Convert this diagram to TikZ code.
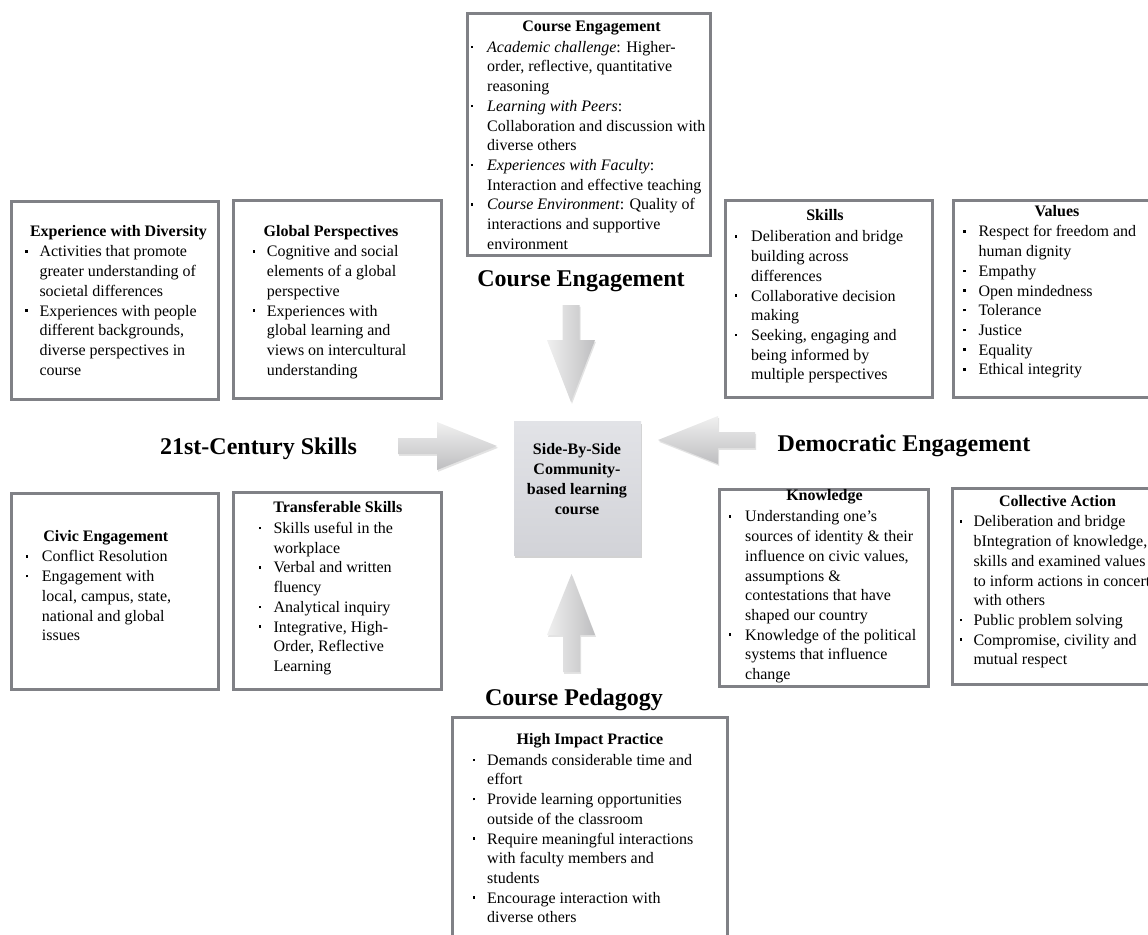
\documentclass[tikz,border=0pt]{standalone}
\usepackage{fontspec}
\setmainfont{Liberation Serif}
\usetikzlibrary{fit,shadows}

\definecolor{panelgray}{RGB}{128,129,134}
\definecolor{hubtop}{RGB}{226,227,231}
\definecolor{hubbot}{RGB}{210,211,216}
\definecolor{arrlight}{RGB}{240,240,240}
\definecolor{arrdark}{RGB}{190,190,192}

\newcommand\bodysize{\fontsize{16}{19.7}\selectfont}
\newcommand\headsize{\fontsize{24}{28}\selectfont\bfseries}
% square bullet hanging to the left of the item text
\newcommand\bu{\llap{\rule[4.3pt]{2.4pt}{2.4pt}\hspace{\bgap}}\rule{0pt}{14pt}}

\begin{document}
\begin{tikzpicture}[x=1pt,y=-1pt,
  panel/.style={draw=panelgray,line width=3pt,fill=white,inner sep=0pt},
  paneltitle/.style={anchor=base,inner sep=0pt,font=\bodysize\bfseries},
  itemlist/.style={anchor=north west,align=left,inner sep=0pt,font=\bodysize,
                   execute at begin node={\def\bgap{#1}}},
  heading/.style={anchor=base,inner sep=0pt,font=\headsize},
  hub/.style={draw=none,inner sep=0pt,top color=hubtop,bottom color=hubbot,
              drop shadow={opacity=0.35,shadow xshift=1.2pt,shadow yshift=-2.5pt}},
  vblock/.style={left color=arrlight,right color=arrdark,draw=none,
                 drop shadow={opacity=0.22,shadow xshift=1pt,shadow yshift=-1.8pt}},
  hblock/.style={top color=arrlight,bottom color=arrdark,draw=none,
                 drop shadow={opacity=0.22,shadow xshift=1pt,shadow yshift=-1.8pt}}]

\useasboundingbox (0,0) rectangle (1148,934);
\fill[white] (0,0) rectangle (1148,934);
\clip (0,0) rectangle (1148,934);

% ---------- panels ----------
\node[panel,fit={(467,14) (710,255)}] (ceng) {};
\node[panel,fit={(11.5,201.5) (218,399.5)}] (expdiv) {};
\node[panel,fit={(233,200) (441,398.5)}] (glob) {};
\node[panel,fit={(725,200.5) (932,397)}] (skills) {};
\node[panel,fit={(953.5,200.5) (1175,397)}] (values) {};
\node[panel,fit={(11.5,493.5) (218,689.5)}] (civic) {};
\node[panel,fit={(233.5,492.5) (441.5,689)}] (transf) {};
\node[panel,fit={(719.5,489.5) (928.5,686)}] (knowl) {};
\node[panel,fit={(952.5,488) (1175,684.5)}] (collect) {};
\node[panel,fit={(452.5,717.5) (727.5,960)}] (hip) {};

% ---------- course engagement panel ----------
\node[paneltitle] (ceng-t) at (591.5,32) {Course Engagement};
\node[itemlist=13.8pt] (ceng-l) at (487,38) {%
\bu\textit{Academic challenge}: Higher-\\
order, reflective, quantitative\\
reasoning\\
\bu\textit{Learning with Peers}:\\
Collaboration and discussion with\\
diverse others\\
\bu\textit{Experiences with Faculty}:\\
Interaction and effective teaching\\
\bu\textit{Course Environment}: Quality of\\
interactions and supportive\\
environment};

% ---------- 21st-century skills panels ----------
\node[paneltitle] (expdiv-t) at (118.5,236.7) {Experience with Diversity};
\node[itemlist=12pt] (expdiv-l) at (39.3,242.7) {%
\bu Activities that promote\\
greater understanding of\\
societal differences\\
\bu Experiences with people\\
different backgrounds,\\
diverse perspectives in\\
course};

\node[paneltitle] (glob-t) at (331,236.7) {Global Perspectives};
\node[itemlist=11.5pt] (glob-l) at (266.7,242.7) {%
\bu Cognitive and social\\
elements of a global\\
perspective\\
\bu Experiences with\\
global learning and\\
views on intercultural\\
understanding};

\node[paneltitle] (civic-t) at (105.8,541.7) {Civic Engagement};
\node[itemlist=13.5pt] (civic-l) at (41.7,547.7) {%
\bu Conflict Resolution\\
\bu Engagement with\\
local, campus, state,\\
national and global\\
issues};

\node[paneltitle] (transf-t) at (337.8,512.7) {Transferable Skills};
\node[itemlist=12.6pt] (transf-l) at (273.3,519.3) {%
\bu Skills useful in the\\
workplace\\
\bu Verbal and written\\
fluency\\
\bu Analytical inquiry\\
\bu Integrative, High-\\
Order, Reflective\\
Learning};

% ---------- democratic engagement panels ----------
\node[paneltitle] (skills-t) at (825,220.7) {Skills};
\node[itemlist=13.8pt] (skills-l) at (751,227.7) {%
\bu Deliberation and bridge\\
building across\\
differences\\
\bu Collaborative decision\\
making\\
\bu Seeking, engaging and\\
being informed by\\
multiple perspectives};

\node[paneltitle] (values-t) at (1057,216) {Values};
\node[itemlist=13pt] (values-l) at (978.3,222.7) {%
\bu Respect for freedom and\\
human dignity\\
\bu Empathy\\
\bu Open mindedness\\
\bu Tolerance\\
\bu Justice\\
\bu Equality\\
\bu Ethical integrity};

\node[paneltitle] (knowl-t) at (824.5,500.7) {Knowledge};
\node[itemlist=13.8pt] (knowl-l) at (745,507.7) {%
\bu Understanding one’s\\
sources of identity \& their\\
influence on civic values,\\
assumptions \&\\
contestations that have\\
shaped our country\\
\bu Knowledge of the political\\
systems that influence\\
change};

\node[paneltitle] (collect-t) at (1057.5,506.7) {Collective Action};
\node[itemlist=11.1pt] (collect-l) at (973.3,512.7) {%
\bu Deliberation and bridge\\
bIntegration of knowledge,\\
skills and examined values\\
to inform actions in concert\\
with others\\
\bu Public problem solving\\
\bu Compromise, civility and\\
mutual respect};

% ---------- course pedagogy panel ----------
\node[paneltitle] (hip-t) at (590,744) {High Impact Practice};
\node[itemlist=11.8pt] (hip-l) at (487,751) {%
\bu Demands considerable time and\\
effort\\
\bu Provide learning opportunities\\
outside of the classroom\\
\bu Require meaningful interactions\\
with faculty members and\\
students\\
\bu Encourage interaction with\\
diverse others};

% ---------- headings ----------
\node[heading] (h-ceng) at (581,286.7) {Course Engagement};
\node[heading] (h-21st) at (258.5,454) {21st-Century Skills};
\node[heading] (h-dem) at (904,451) {Democratic Engagement};
\node[heading] (h-ped) at (574,705.5) {Course Pedagogy};

% ---------- central course ----------
\node[hub,fit={(514,421) (641,555)}] (hub) {};
\node[anchor=north,align=center,inner sep=0pt,
      font=\fontsize{16}{20}\selectfont\bfseries] (hub-t) at (577,440)
  {\rule{0pt}{14pt}Side-By-Side\\Community-\\based learning\\course};

% ---------- block arrows pointing at the course ----------
\path[vblock] (562.5,305) -- (579.5,305) -- (579.5,340) -- (595,340)
  -- (571,402) -- (547,340) -- (562.5,340) -- cycle;
\path[vblock] (563,672) -- (580,672) -- (580,635) -- (595,635)
  -- (571.5,574) -- (547,635) -- (563,635) -- cycle;
\path[hblock] (398,438) -- (437,438) -- (437,422) -- (497,446)
  -- (437,470) -- (437,454) -- (398,454) -- cycle;
\path[hblock] (755,432) -- (718,432) -- (718,416) -- (658,440)
  -- (718,464) -- (718,448) -- (755,448) -- cycle;

\end{tikzpicture}
\end{document}
